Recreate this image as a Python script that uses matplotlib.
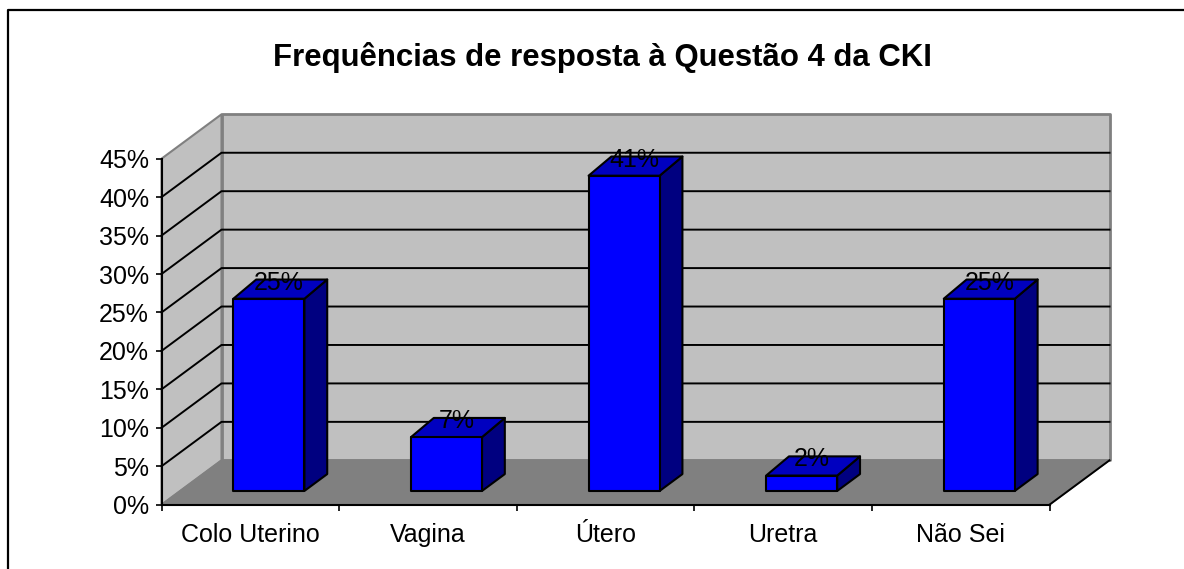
# plot.py - Excel style 3D column chart, oblique depth drawn by hand on a 2D axes
import matplotlib
matplotlib.use("Agg")
import matplotlib.pyplot as plt
from matplotlib.lines import Line2D
from matplotlib.patches import Polygon

plt.rcParams["font.family"] = ["Liberation Sans", "DejaVu Sans"]

categories = ["Colo Uterino", "Vagina", "Útero", "Uretra", "Não Sei"]
values = [25, 7, 41, 2, 25]
y_ticks = [0, 5, 10, 15, 20, 25, 30, 35, 40, 45]
title = "Frequências de resposta à Questão 4 da CKI"

WIDTH, HEIGHT = 1184, 569

# depth of the box, in data units per full depth
DEPTH_X = 60 / 177.6
DEPTH_Y = 44.4 / 7.69
BAR_W = 0.4
BAR_NEAR, BAR_FAR = 0.31, 0.69
TOP_RISE = 0.3  # Excel draws the far edge of the bar top a little higher

WALL = "#C0C0C0"
FLOOR = "#808080"
EDGE = "#808080"


def project(x, y, depth):
    return (x + depth * DEPTH_X, y + depth * DEPTH_Y)


def face(ax, corners, color, edge, lw=1.5, z=2):
    pts = [project(*c) for c in corners]
    ax.add_patch(Polygon(pts, closed=True, facecolor=color, edgecolor=edge,
                         linewidth=lw, zorder=z, clip_on=False, joinstyle="round"))


fig = plt.figure(figsize=(WIDTH / 100, HEIGHT / 100), dpi=100, facecolor="white")
left, right = 161.5 / WIDTH, 1049.5 / WIDTH
bottom, top = 1 - 504.7 / HEIGHT, 1 - 158.7 / HEIGHT
ax = fig.add_axes([left, bottom, right - left, top - bottom])
ax.set_xlim(0, len(categories))
ax.set_ylim(0, 45)
ax.patch.set_visible(False)

y_max = y_ticks[-1]
n = len(categories)

# ── walls and floor ──────────────────────────────────────────────────────────
face(ax, [(0, 0, 1), (n, 0, 1), (n, y_max, 1), (0, y_max, 1)], WALL, EDGE, lw=2, z=1)
face(ax, [(0, 0, 0), (0, 0, 1), (0, y_max, 1), (0, y_max, 0)], WALL, EDGE, lw=1.5, z=1)

for y in y_ticks[1:-1]:
    xs, ys = zip(project(0, y, 0), project(0, y, 1), project(n, y, 1))
    ax.plot(xs, ys, color="black", lw=1.4, zorder=1.5, clip_on=False)

face(ax, [(0, 0, 0), (n, 0, 0), (n, 0, 1), (0, 0, 1)], FLOOR, FLOOR, lw=1, z=1.6)
xs, ys = zip(project(n, 0, 0), project(n, 0, 1))
ax.plot(xs, ys, color="black", lw=1.4, zorder=1.7, clip_on=False)

# ── bars ─────────────────────────────────────────────────────────────────────
for i, v in enumerate(values):
    x0 = i + 0.5 - BAR_W / 2
    x1 = i + 0.5 + BAR_W / 2
    far_top = v + TOP_RISE
    face(ax, [(x1, 0, BAR_NEAR), (x1, 0, BAR_FAR), (x1, far_top, BAR_FAR), (x1, v, BAR_NEAR)],
         "#000080", "black", z=3)
    face(ax, [(x0, v, BAR_NEAR), (x1, v, BAR_NEAR), (x1, far_top, BAR_FAR), (x0, far_top, BAR_FAR)],
         "#0000C0", "black", z=3)
    face(ax, [(x0, 0, BAR_NEAR), (x1, 0, BAR_NEAR), (x1, v, BAR_NEAR), (x0, v, BAR_NEAR)],
         "#0000FF", "black", z=3)
    lx, ly = project(i + 0.5, v, 0.5)
    ax.annotate(f"{v}%", (lx, ly), xytext=(-1, 5.5), textcoords="offset points",
                ha="center", va="center", fontsize=18, color="black", zorder=4)

# ── axes ─────────────────────────────────────────────────────────────────────
for side in ("top", "right"):
    ax.spines[side].set_visible(False)
for side in ("left", "bottom"):
    ax.spines[side].set_linewidth(1.5)
    ax.spines[side].set_zorder(5)

ax.set_yticks(y_ticks)
ax.set_yticklabels([f"{t}%" for t in y_ticks])
ax.tick_params(axis="y", length=4, width=1.2, labelsize=18, pad=5)
ax.set_xticks(range(n + 1))
ax.set_xticklabels([])
ax.tick_params(axis="x", which="major", length=4, width=1.2)
ax.set_xticks([i + 0.5 for i in range(n)], minor=True)
ax.set_xticklabels(categories, minor=True)
ax.tick_params(axis="x", which="minor", length=0, labelsize=18, pad=13.5)

fig.text(602 / WIDTH, 1 - 57 / HEIGHT, title, ha="center", va="center",
         fontsize=22.4, fontweight="bold", color="black")

# outer chart frame runs off the right and bottom of the image
fig.add_artist(Line2D([7.5 / WIDTH, 7.5 / WIDTH, 1], [0, 1 - 10 / HEIGHT, 1 - 10 / HEIGHT],
                      color="black", lw=1.6, transform=fig.transFigure))

fig.savefig("out.png", dpi=100)
